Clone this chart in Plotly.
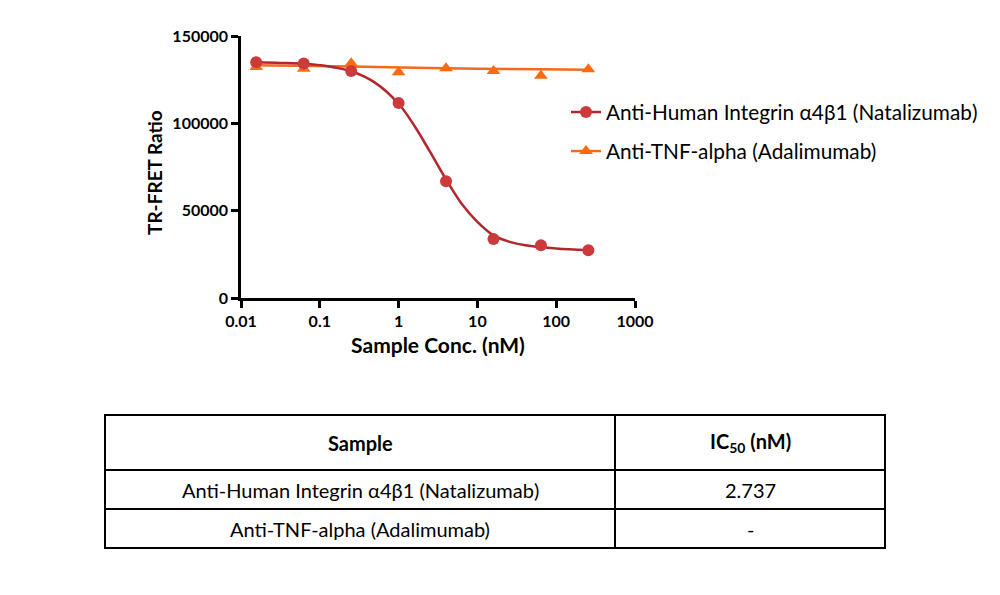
import plotly.graph_objects as go

# ---- data ----
conc = [0.0156, 0.0625, 0.25, 1, 4, 16, 64, 256]
natalizumab = [135000, 134300, 130000, 111600, 66800, 33800, 30200, 27300]
adalimumab = [132300, 131200, 134400, 129200, 131600, 130000, 127300, 131000]

# fitted curves
fit_conc_nat = [0.0155, 0.0316, 0.0631, 0.126, 0.251, 0.501, 1.0, 1.585, 2.512,
                3.981, 6.31, 10.0, 15.85, 25.12, 50.12, 100.0, 257]
fit_nat = [134900, 134600, 134100, 132700, 129800, 123300, 111200, 98600, 83600,
           68000, 54000, 43600, 36000, 32300, 29600, 28400, 27300]
fit_conc_ada = [0.0155, 0.251, 3.981, 63.1, 257]
fit_ada = [133300, 132500, 131500, 130900, 130700]

legend_names = ["Anti-Human Integrin α4β1 (Natalizumab)", "Anti-TNF-alpha (Adalimumab)"]
x_ticks = [0.01, 0.1, 1, 10, 100, 1000]
x_tick_text = ["0.01", "0.1", "1", "10", "100", "1000"]
y_ticks = [0, 50000, 100000, 150000]
y_tick_text = ["0", "50000", "100000", "150000"]
x_title = "Sample Conc. (nM)"
y_title = "TR-FRET Ratio"

table_header = ["Sample", "IC<sub>50</sub> (nM)"]
table_samples = ["Anti-Human Integrin α4β1 (Natalizumab)", "Anti-TNF-alpha (Adalimumab)"]
table_ic50 = ["2.737", "-"]

RED_M = "#CC3A3C"
RED_L = "#B3262C"
ORG_M = "#FF6A10"
ORG_L = "#F26A1E"
FONT = "Lato"

# page offset of the browser (body margin)
OFF = 8
W, H = 1000, 595
L, R, T, B = 241 - OFF, 635 - OFF, 36 - OFF, 298 - OFF


def px_x(p):
    return (p - OFF - L) / (R - L)


def px_y(p):
    return (B - (p - OFF)) / (B - T)


fig = go.Figure()
# fitted curves
fig.add_trace(go.Scatter(x=fit_conc_ada, y=fit_ada, mode="lines",
                         line=dict(color=ORG_L, width=2.5, shape="spline"),
                         showlegend=False, hoverinfo="skip"))
fig.add_trace(go.Scatter(x=fit_conc_nat, y=fit_nat, mode="lines",
                         line=dict(color=RED_L, width=2.5, shape="spline"),
                         showlegend=False, hoverinfo="skip"))
# data points
fig.add_trace(go.Scatter(x=conc, y=adalimumab, mode="markers", showlegend=False,
                         marker=dict(symbol="triangle-up", size=12, color=ORG_M)))
fig.add_trace(go.Scatter(x=conc, y=natalizumab, mode="markers", showlegend=False,
                         marker=dict(symbol="circle", size=12, color=RED_M)))
# legend proxies (line + marker symbol)
fig.add_trace(go.Scatter(x=[None], y=[None], mode="lines+markers", name=legend_names[0],
                         legendgroup="a", legendrank=1,
                         marker=dict(symbol="circle", size=12, color=RED_M),
                         line=dict(color=RED_L, width=2.5)))
fig.add_trace(go.Scatter(x=[None], y=[None], mode="lines+markers", name=legend_names[1],
                         legendgroup="b", legendrank=2,
                         marker=dict(symbol="triangle-up", size=12, color=ORG_M),
                         line=dict(color=ORG_L, width=2.5)))

fig.update_layout(
    width=W, height=H,
    margin=dict(l=L, r=W - R, t=T, b=H - B),
    paper_bgcolor="white", plot_bgcolor="white",
    font=dict(family=FONT, color="black"),
    legend=dict(x=px_x(566), y=px_y(92), xanchor="left", yanchor="top",
                font=dict(size=20.8, family=FONT, color="black"),
                traceorder="grouped", tracegroupgap=9, bgcolor="rgba(0,0,0,0)",
                itemwidth=30),
    xaxis=dict(type="log", range=[-2, 3], tickvals=x_ticks, ticktext=x_tick_text,
               showgrid=False, zeroline=False, showline=True, linecolor="black", linewidth=2.5,
               ticks="outside", ticklen=7, tickwidth=2.5, tickcolor="black",
               tickfont=dict(size=16, family=FONT, color="black", weight="bold"),
               title=dict(text="<b>" + x_title + "</b>", font=dict(size=21, family=FONT), standoff=10)),
    yaxis=dict(range=[0, 150000], tickvals=y_ticks, ticktext=y_tick_text, showgrid=False, zeroline=False,
               showline=True, linecolor="black", linewidth=2.5,
               ticks="outside", ticklen=7, tickwidth=2.5, tickcolor="black",
               tickfont=dict(size=16, family=FONT, color="black", weight="bold")),
)

# ---- table ----
tx0, tx1, tdiv = 105, 885, 615
row_lines = [415, 470, 509, 548]
shapes = [dict(type="rect", xref="paper", yref="paper", x0=px_x(tx0), x1=px_x(tx1),
               y0=px_y(row_lines[0]), y1=px_y(row_lines[-1]), line=dict(color="black", width=2))]
for r in row_lines[1:-1]:
    shapes.append(dict(type="line", xref="paper", yref="paper", x0=px_x(tx0), x1=px_x(tx1),
                       y0=px_y(r), y1=px_y(r), line=dict(color="black", width=2)))
shapes.append(dict(type="line", xref="paper", yref="paper", x0=px_x(tdiv), x1=px_x(tdiv),
                   y0=px_y(row_lines[0]), y1=px_y(row_lines[-1]), line=dict(color="black", width=2)))
fig.update_layout(shapes=shapes)

c1 = (tx0 + tdiv) / 2
c2 = (tdiv + tx1) / 2
anns = []
hy = (row_lines[0] + row_lines[1]) / 2
anns.append(dict(x=px_x(c1), y=px_y(hy), text="<b>" + table_header[0] + "</b>"))
anns.append(dict(x=px_x(c2), y=px_y(hy), text="<b>" + table_header[1] + "</b>"))
for i in range(len(table_samples)):
    ry = (row_lines[i + 1] + row_lines[i + 2]) / 2
    anns.append(dict(x=px_x(c1), y=px_y(ry), text=table_samples[i]))
    anns.append(dict(x=px_x(c2), y=px_y(ry), text=table_ic50[i]))
for a in anns:
    a.update(xref="paper", yref="paper", showarrow=False, xanchor="center", yanchor="middle",
             font=dict(size=20, family=FONT, color="black"))
# y-axis title
anns.append(dict(xref="paper", yref="paper", x=px_x(155), y=px_y(173), text="<b>" + y_title + "</b>",
                 textangle=-90, showarrow=False, xanchor="center", yanchor="middle",
                 font=dict(size=19, family=FONT, color="black")))
fig.update_layout(annotations=anns)

fig.write_html("out.html")
